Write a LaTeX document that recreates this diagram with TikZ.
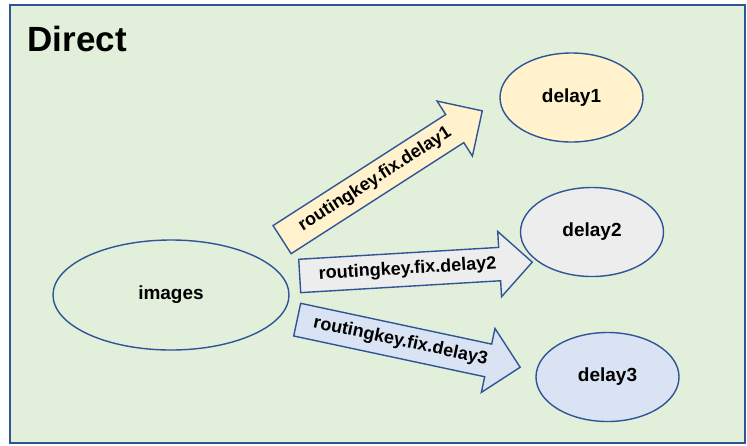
\documentclass[tikz,border=0pt]{standalone}
\usepackage{fontspec}
\setmainfont{Liberation Sans}
\usetikzlibrary{shapes.arrows,shapes.geometric}

\definecolor{frameblue}{HTML}{2F5597}
\definecolor{bggreen}{HTML}{E2EFDA}
\definecolor{keyyellow}{HTML}{FFF2CC}
\definecolor{keygrey}{HTML}{EDEDED}
\definecolor{keyblue}{HTML}{DAE3F3}

\begin{document}
\begin{tikzpicture}[x=1pt, y=-1pt,
    queue/.style={ellipse, draw=frameblue, line width=1.4pt, inner sep=0pt,
      minimum width=143pt, minimum height=89pt,
      font=\fontsize{19}{22}\selectfont\bfseries},
    keyarrow/.style={single arrow, draw=frameblue, line width=1.4pt,
      anchor=tail, single arrow head extend=16pt, inner xsep=4pt, inner ysep=7.5pt,
      text height=13pt, text depth=4pt,
      font=\fontsize{18}{21}\selectfont\bfseries}]
  \useasboundingbox (0,0) rectangle (747,445);
  % exchange box
  \draw[frameblue, line width=1.8pt, fill=bggreen] (10,5) rectangle (745,443);
  \node[anchor=base west, font=\fontsize{35}{40}\selectfont\bfseries] (title) at (24,51) {Direct};

  % queues
  \node[queue, fill=bggreen, minimum width=236pt, minimum height=110pt] (images) at (171,295) {images};
  \node[queue, fill=keyyellow] (delay1) at (571.5,97.5) {delay1};
  \node[queue, fill=keygrey] (delay2) at (592,232) {delay2};
  \node[queue, fill=keyblue] (delay3) at (607.5,377) {delay3};

  % routing keys
  \node[keyarrow, fill=keyyellow, rotate=32.75, minimum height=238pt] (key1) at (281.5,240) {routingkey.fix.delay1};
  \node[keyarrow, fill=keygrey, rotate=3.4, minimum height=233pt] (key2) at (299,276) {routingkey.fix.delay2};
  \node[keyarrow, fill=keyblue, rotate=-12.05, minimum height=228pt] (key3) at (296.5,319.5) {routingkey.fix.delay3};
\end{tikzpicture}
\end{document}
